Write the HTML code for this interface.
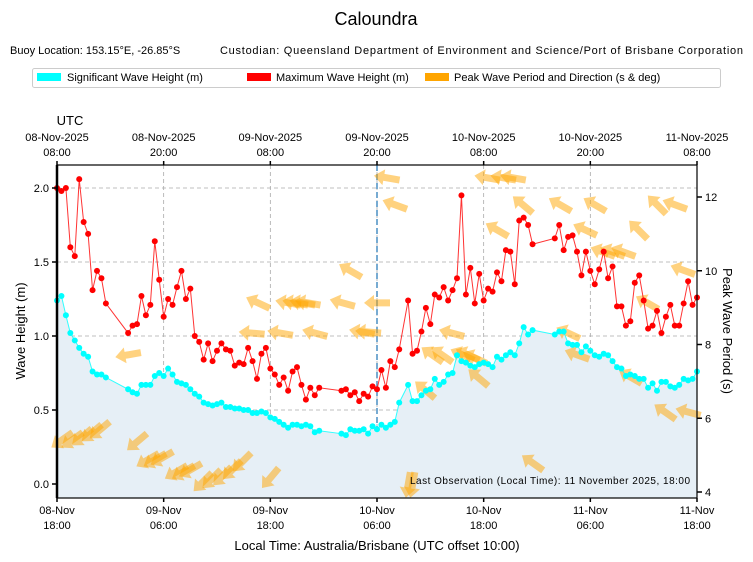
<!DOCTYPE html>
<html><head><meta charset="utf-8"><style>
body{margin:0;background:#fff;}
svg{display:block;font-family:"Liberation Sans","DejaVu Sans",sans-serif;}
</style></head><body>
<svg id="chart" width="753" height="562" viewBox="0 0 753 562">
<text x="376" y="25" text-anchor="middle" font-size="18">Caloundra</text>
<text x="10" y="54" font-size="11">Buoy Location: 153.15°E, -26.85°S</text>
<text x="220" y="54" font-size="11" textLength="523" lengthAdjust="spacing">Custodian: Queensland Department of Environment and Science/Port of Brisbane Corporation</text>
<g>
<rect x="32.5" y="68.5" width="688" height="19" rx="2" fill="#fff" stroke="#ccc"/>
<g><rect x="37" y="73" width="24" height="8" fill="#00ffff"/><text x="67" y="81" font-size="11">Significant Wave Height (m)</text></g>
<g><rect x="247" y="73" width="24" height="8" fill="#ff0000"/><text x="276" y="81" font-size="11">Maximum Wave Height (m)</text></g>
<g><rect x="425" y="73" width="24" height="8" fill="#ffa500"/><text x="454" y="81" font-size="11">Peak Wave Period and Direction (s &amp; deg)</text></g>
</g>
<text x="70" y="125" text-anchor="middle" font-size="13">UTC</text>
<g id="grid"></g>
<g id="area"></g>
<g id="arrows"></g>
<g id="series"></g>
<g id="axes"></g>
<text x="410" y="484" font-size="10" textLength="280" lengthAdjust="spacing">Last Observation (Local Time): 11 November 2025, 18:00</text>
<text x="377" y="550" text-anchor="middle" font-size="13">Local Time: Australia/Brisbane (UTC offset 10:00)</text>
<text transform="translate(25,331) rotate(-90)" text-anchor="middle" font-size="13">Wave Height (m)</text>
<text transform="translate(723,331) rotate(90)" text-anchor="middle" font-size="13">Peak Wave Period (s)</text>
</svg>
<script>
const times=[0,0.5,1,1.5,2,2.5,3,3.5,4,4.5,5,5.5,
8,8.5,9,9.5,10,10.5,11,11.5,12,12.5,13,13.5,14,14.5,15,15.5,16,16.5,17,17.5,18,18.5,19,19.5,20,20.5,21,21.5,22,22.5,23,23.5,24,
24.5,25,25.5,26,26.5,27,27.5,28,28.5,29,29.5,
32,32.5,33,33.5,34,34.5,35,35.5,36,36.5,37,37.5,38,38.5,
39.5,40,40.5,41,41.5,42,42.5,43,43.5,44,44.5,45,45.5,46,46.5,47,47.5,48,48.5,49,49.5,50,50.5,51,51.5,52,52.5,53,53.5,
56,56.5,57,57.5,58,58.5,59,59.5,60,60.5,61,61.5,62,62.5,63,63.5,64,64.5,65,65.5,66,66.5,67,67.5,68,68.5,69,69.5,70,70.5,71,71.5,72];
const hsValues=[1.24,1.27,1.14,1.02,0.97,0.92,0.88,0.86,0.76,0.74,0.74,0.72,
0.64,0.62,0.61,0.67,0.67,0.67,0.73,0.75,0.73,0.78,0.74,0.69,0.68,0.67,0.64,0.61,0.59,0.55,0.54,0.53,0.54,0.55,0.52,0.52,0.51,0.51,0.50,0.50,0.48,0.48,0.49,0.48,0.45,
0.44,0.42,0.40,0.38,0.40,0.40,0.39,0.40,0.39,0.35,0.36,
0.34,0.33,0.37,0.36,0.36,0.37,0.34,0.39,0.37,0.40,0.38,0.40,0.42,0.55,
0.67,0.56,0.56,0.60,0.63,0.64,0.71,0.67,0.69,0.74,0.75,0.87,0.83,0.82,0.80,0.79,0.81,0.82,0.81,0.79,0.86,0.84,0.87,0.89,0.87,0.95,1.06,1.01,1.04,
1.01,1.03,1.03,0.95,0.94,0.94,0.89,0.93,0.90,0.87,0.86,0.88,0.87,0.83,0.79,0.78,0.73,0.74,0.73,0.71,0.71,0.65,0.68,0.63,0.69,0.69,0.66,0.65,0.67,0.71,0.70,0.71,0.76];
const hmaxValues=[2.0,1.98,2.0,1.6,1.54,2.06,1.77,1.69,1.31,1.44,1.39,1.22,
1.02,1.07,1.08,1.27,1.14,1.21,1.64,1.38,1.13,1.25,1.21,1.33,1.44,1.25,1.32,1.0,0.96,0.84,0.95,0.83,0.90,0.95,0.91,0.90,0.80,0.82,0.81,0.92,0.83,0.71,0.88,0.92,0.78,
0.74,0.67,0.72,0.63,0.76,0.79,0.67,0.57,0.65,0.60,0.65,
0.63,0.64,0.60,0.62,0.56,0.61,0.59,0.66,0.64,0.77,0.65,0.83,0.79,0.91,
1.24,0.88,0.90,1.03,1.19,1.08,1.28,1.26,1.33,1.24,1.31,1.39,1.95,1.28,1.46,1.22,1.42,1.24,1.32,1.30,1.43,1.37,1.58,1.57,1.35,1.78,1.80,1.75,1.62,
1.66,1.75,1.58,1.67,1.68,1.57,1.41,1.57,1.44,1.35,1.45,1.57,1.39,1.47,1.20,1.20,1.07,1.10,1.36,1.41,1.24,1.05,1.07,1.17,1.02,1.13,1.21,1.07,1.07,1.22,1.37,1.21,1.26];
const arrowTimes=[0.56,1.7,2.8,3.9,4.8,8.0,9.0,10.2,11.0,11.8,13.4,14.2,15.0,16.4,17.4,18.6,19.7,20.8,22.6,21.9,24.0,25.1,26.0,26.8,27.6,28.2,29.0,32.1,33.0,36.0,34.3,35.0,37.1,38.0,39.5,40.0,41.4,42.2,43.3,44.4,45.6,46.2,47.0,47.4,48.4,50.2,51.3,49.5,52.4,53.5,56.6,57.5,58.5,59.4,60.5,61.4,62.5,63.7,64.5,65.4,66.4,67.5,68.4,69.5,70.4,71.0];
const arrowPeriods=[5.41,5.41,5.49,5.6,5.68,7.72,5.36,4.87,4.87,4.92,4.54,4.54,4.6,4.27,4.35,4.43,4.6,4.81,9.13,8.31,4.38,8.31,9.13,9.13,9.13,9.13,8.31,9.13,10.0,9.13,8.34,8.34,12.52,11.79,4.19,4.19,6.77,7.72,7.72,8.31,7.72,7.72,7.64,7.1,12.52,12.52,12.52,11.11,11.79,4.79,11.79,8.31,7.72,11.11,11.79,10.51,10.51,10.51,7.12,11.11,9.13,11.79,6.17,11.79,10.02,6.17];
const arrowDirs=[55,55,50,50,50,80,50,60,60,60,60,60,60,45,45,45,45,45,115,95,40,100,100,100,100,100,105,105,120,90,100,95,100,110,10,10,130,125,125,105,115,115,115,130,100,100,100,120,130,125,120,115,110,115,120,110,110,110,120,135,120,135,125,110,110,105];
const yTicks=[0,0.5,1.0,1.5,2.0];
const yTickLabels=["0.0","0.5","1.0","1.5","2.0"];
const pTicks=[4,6,8,10,12];
const pTickLabels=["4","6","8","10","12"];
const xTicks=[0,12,24,36,48,60,72];
const xTickLabels=[["08-Nov","18:00"],["09-Nov","06:00"],["09-Nov","18:00"],["10-Nov","06:00"],["10-Nov","18:00"],["11-Nov","06:00"],["11-Nov","18:00"]];
const xTopLabels=[["08-Nov-2025","08:00"],["08-Nov-2025","20:00"],["09-Nov-2025","08:00"],["09-Nov-2025","20:00"],["10-Nov-2025","08:00"],["10-Nov-2025","20:00"],["11-Nov-2025","08:00"]];
const markerTime=36;

const L=57,R=697,T=165,B=498;
const X=t=>L+(t/72)*(R-L);
const Y=v=>484-v*148;
const P=p=>492-(p-4)*36.875;
const NS='http://www.w3.org/2000/svg';
function mk(tag,attrs,parent){const e=document.createElementNS(NS,tag);for(const k in attrs)e.setAttribute(k,attrs[k]);parent.appendChild(e);return e;}
const grid=document.getElementById('grid'),area=document.getElementById('area'),arrows=document.getElementById('arrows'),series=document.getElementById('series'),axes=document.getElementById('axes');

yTicks.forEach(v=>{const l=mk('line',{x1:L,x2:R,y1:Y(v),y2:Y(v),stroke:'#aaa','stroke-width':0.8,'stroke-dasharray':'4,3'},grid);

});
xTicks.forEach(t=>{const l=mk('line',{x1:X(t),x2:X(t),y1:T,y2:B,stroke:'#aaa','stroke-width':0.8,'stroke-dasharray':'4,3'},grid);

});

let d='M'+X(times[0])+','+B;
times.forEach((t,i)=>{d+=' L'+X(t)+','+Y(hsValues[i]);});
d+=' L'+X(times[times.length-1])+','+B+' Z';
const ar=mk('path',{d:d,fill:'#e6eff6'},area);



const ml=mk('line',{x1:X(markerTime),x2:X(markerTime),y1:T,y2:B,stroke:'#4a8fc4','stroke-width':1.5,'stroke-dasharray':'6,3'},grid);



arrowTimes.forEach((t,i)=>{
  const b=(arrowDirs[i]+180)*Math.PI/180;
  const ang=Math.atan2(-Math.cos(b),Math.sin(b))*180/Math.PI;
  const g=mk('polygon',{points:'-13,-3.5 3,-3.5 3,-8 13,0 3,8 3,3.5 -13,3.5',fill:'#ffa500','fill-opacity':0.5,
    transform:'translate('+X(t)+','+P(arrowPeriods[i])+') rotate('+ang+')'},arrows);
  
  
});

function drawSeries(vals,color,name){
  const pts=times.map((t,i)=>X(t)+','+Y(vals[i])).join(' ');
  const pl=mk('polyline',{points:pts,fill:'none',stroke:color,'stroke-width':1,'stroke-opacity':0.8},series);
  
  
  times.forEach((t,i)=>{const c=mk('circle',{cx:X(t),cy:Y(vals[i]),r:3,fill:color},series);
    
    });
}
drawSeries(hsValues,'#00ffff','hs');
drawSeries(hmaxValues,'#ff0000','hmax');

const fr=mk('rect',{x:L,y:T,width:R-L,height:B-T,fill:'none',stroke:'#000','stroke-width':1.2},axes);


const sp=mk('line',{x1:L,x2:L,y1:T,y2:B,stroke:'#000','stroke-width':2.5},axes);


yTicks.forEach((v,i)=>{mk('line',{x1:L-5,x2:L,y1:Y(v),y2:Y(v),stroke:'#000','stroke-width':1.5},axes);
  const tx=mk('text',{x:L-8,y:Y(v)+4,'text-anchor':'end','font-size':11},axes);tx.textContent=yTickLabels[i];
  
  });
pTicks.forEach((p,i)=>{mk('line',{x1:R,x2:R+5,y1:P(p),y2:P(p),stroke:'#000','stroke-width':1.5},axes);
  const tx=mk('text',{x:R+8,y:P(p)+4,'font-size':11},axes);tx.textContent=pTickLabels[i];
  
  });
xTicks.forEach((t,i)=>{
  mk('line',{x1:X(t),x2:X(t),y1:B,y2:B+4,stroke:'#000','stroke-width':1.5},axes);
  mk('line',{x1:X(t),x2:X(t),y1:T-4,y2:T,stroke:'#000','stroke-width':1.5},axes);
  const a=mk('text',{x:X(t),y:514,'text-anchor':'middle','font-size':11},axes);a.textContent=xTickLabels[i][0];
  
  
  const b=mk('text',{x:X(t),y:529,'text-anchor':'middle','font-size':11},axes);b.textContent=xTickLabels[i][1];
  
  
  const c=mk('text',{x:X(t),y:141,'text-anchor':'middle','font-size':11},axes);c.textContent=xTopLabels[i][0];
  
  
  const e=mk('text',{x:X(t),y:156,'text-anchor':'middle','font-size':11},axes);e.textContent=xTopLabels[i][1];
  
  
});
</script>
</body></html>
